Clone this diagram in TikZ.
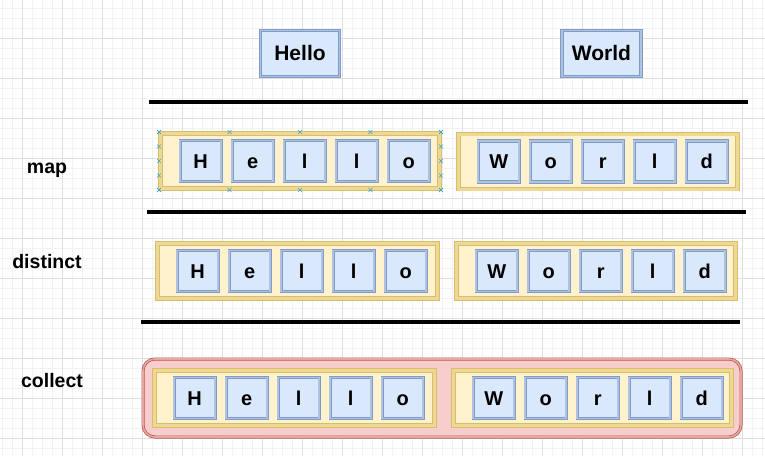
\documentclass[tikz,border=0pt]{standalone}
\usepackage{fontspec}
\setmainfont{Liberation Sans}
\definecolor{cellfill}{HTML}{DAE8FC}
\definecolor{cellline}{HTML}{7F9CC8}
\definecolor{celldbl}{HTML}{AFC2E2}
\definecolor{grpfill}{HTML}{FFF2CC}
\definecolor{grpline}{HTML}{D9BD6A}
\definecolor{grpdbl}{HTML}{EDD896}
\definecolor{redfill}{HTML}{F8CECC}
\definecolor{redline}{HTML}{B85450}
\definecolor{reddbl}{HTML}{E8A6A3}
\definecolor{handlecol}{HTML}{3AA6D0}
\begin{document}
\begin{tikzpicture}[x=1pt,y=-1pt,
  minorgrid/.style={draw=black!5, line width=0.5pt},
  majorgrid/.style={draw=black!13, line width=0.6pt},
  letter/.style={draw=cellline, line width=0.7pt, double=celldbl, double distance=1.8pt,
    fill=cellfill, minimum width=41pt, minimum height=41pt, inner sep=0pt,
    text height=14pt, text depth=0pt,
    font=\fontsize{20}{22}\selectfont\bfseries},
  word/.style={letter, minimum width=79pt, minimum height=46pt, font=\fontsize{21}{24}\selectfont\bfseries},
  group/.style={draw=grpline, line width=0.6pt, double=grpdbl, double distance=3pt,
    fill=grpfill, minimum height=55pt, inner sep=0pt},
  collbox/.style={draw=redline, line width=0.7pt, double=reddbl, double distance=1.6pt,
    fill=redfill, rounded corners=12pt, minimum width=598pt, minimum height=78pt},
  oplabel/.style={anchor=base, font=\fontsize{19.5}{22}\selectfont\bfseries},
  sep/.style={line width=3.5pt},
  handle/.style={draw=handlecol, line width=0.6pt}]
  \useasboundingbox (0,0) rectangle (765,456);
  \fill[white] (0,0) rectangle (765,456);
  \foreach \x in {2,12,...,762} \draw[minorgrid] (\x,0) -- (\x,456);
  \foreach \y in {8,18,...,448} \draw[minorgrid] (0,\y) -- (765,\y);
  \foreach \x in {22,62,...,742} \draw[majorgrid] (\x,0) -- (\x,456);
  \foreach \y in {38,78,...,438} \draw[majorgrid] (0,\y) -- (765,\y);

  \node[word] (hello) at (300,53.5) {Hello};
  \node[word] (world) at (601.5,53.5) {World};

  \draw[sep] (149,102) -- (748,102);
  \draw[sep] (147,212) -- (746,212);
  \draw[sep] (141,322) -- (740,322);

  \node[oplabel] (map) at (47,173) {map};
  \node[oplabel] (distinct) at (47,268) {distinct};
  \node[oplabel] (collect) at (52,387) {collect};

  \node[collbox] (coll) at (442,398) {};

  \node[group, minimum width=279pt] (mapA) at (300,161) {};
  \node[group, minimum width=279pt] (mapB) at (598,161.5) {};
  \node[group, minimum width=280pt] (distA) at (297.5,271) {};
  \node[group, minimum width=279pt] (distB) at (596,271) {};
  \node[group, minimum width=280pt] (collA) at (294.5,398) {};
  \node[group, minimum width=278pt] (collB) at (592.5,398) {};

  \foreach \g in {mapA,distA,collA}
    \foreach \c [count=\i] in {H,e,l,l,o}
      \node[letter] (\g\i) at ([xshift={40.5+52*(\i-1)}]\g.west) {\c};
  \foreach \g in {mapB,distB,collB}
    \foreach \c [count=\i] in {W,o,r,l,d}
      \node[letter] (\g\i) at ([xshift={40.5+52*(\i-1)}]\g.west) {\c};

  \foreach \k in {0,...,4} {
    \draw[handle] (159+70.5*\k,132) +(-2,-2) -- +(2,2) +(-2,2) -- +(2,-2);
    \draw[handle] (159+70.5*\k,190) +(-2,-2) -- +(2,2) +(-2,2) -- +(2,-2);
    \draw[handle] (159,132+14.5*\k) +(-2,-2) -- +(2,2) +(-2,2) -- +(2,-2);
    \draw[handle] (441,132+14.5*\k) +(-2,-2) -- +(2,2) +(-2,2) -- +(2,-2);
  }
\end{tikzpicture}
\end{document}
